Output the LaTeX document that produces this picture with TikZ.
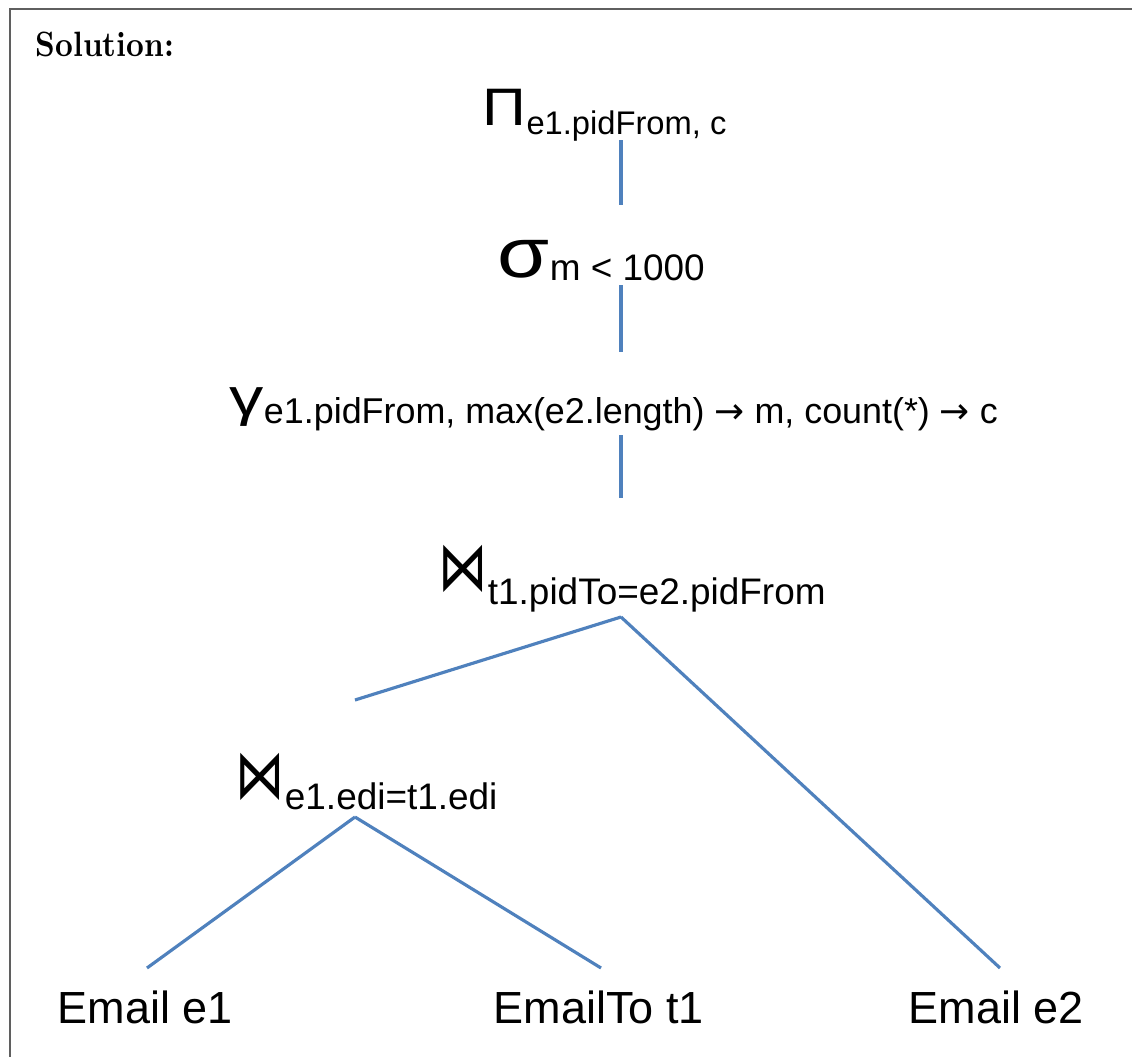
\documentclass[tikz,border=0pt]{standalone}
\usepackage{fontspec}
\newfontfamily\arialfont{Liberation Sans}
\newfontfamily\dejavufont{DejaVu Sans}
\definecolor{treeblue}{RGB}{79,129,189}
\definecolor{framegray}{RGB}{95,95,95}

\tikzset{
  opnode/.style={anchor=base west,inner sep=0pt,font=\arialfont},
  relnode/.style={anchor=base west,inner sep=0pt,font=\arialfont\fontsize{12.8}{14}\selectfont},
  link/.style={draw=treeblue,line width=0.9pt}
}
% operator symbol: size, x-stretch, y-stretch, glyph
\newcommand{\opsym}[4]{\scalebox{#2}[#3]{\fontsize{#1}{#1}\selectfont #4}}
% subscript: drop, size, text
\newcommand{\opsub}[3]{\raisebox{-#1}{\fontsize{#2}{#2}\selectfont #3}}
\newcommand{\toarrow}{{\dejavufont →}}

\begin{document}
\begin{tikzpicture}[x=0.01cm,y=-0.01cm]
    \useasboundingbox (0,0) rectangle (1132,1057);
    \draw[framegray,line width=0.6pt] (10,1057) -- (10,9) -- (1132,9);
    \node[anchor=base west,inner sep=0pt] (sol) at (35,56)
        {\scalebox{0.88}[1]{\fontsize{10}{12}\selectfont\bfseries Solution:}};

    % operators
    \node[opnode] (pi) at (482,125) {\opsym{15}{1.15}{1}{Π}\opsub{2.6pt}{9.3}{e1.pidFrom, c}};
    \node[opnode] (sigma) at (497,277) {\opsym{20}{1.2}{1}{σ}\opsub{1pt}{10.5}{m < 1000}};
    \node[opnode] (gamma) at (229,415) {\opsym{15}{1.3}{1}{γ}\opsub{2.3pt}{10.2}{e1.pidFrom, max(e2.length) \toarrow{} m, count(*) \toarrow{} c}};
    \node[opnode] (joinT) at (438,590) {{\dejavufont\opsym{14}{1}{1.4}{⋈}}\opsub{4pt}{10.5}{t1.pidTo=e2.pidFrom}};
    \node[opnode] (joinE) at (235,798) {{\dejavufont\opsym{14}{1}{1.4}{⋈}}\opsub{3.3pt}{10.5}{e1.edi=t1.edi}};

    % relations
    \node[relnode] (emailA) at (57,1023) {Email e1};
    \node[relnode] (emailTo) at (493,1023) {EmailTo t1};
    \node[relnode] (emailB) at (908,1023) {Email e2};

    % link ends
    \coordinate (pi-b) at (621,140);
    \coordinate (sigma-t) at (621,205);
    \coordinate (sigma-b) at (621,285);
    \coordinate (gamma-t) at (621,352);
    \coordinate (gamma-b) at (621,435);
    \coordinate (joinT-t) at (621,498);
    \coordinate (joinT-b) at (621,617);
    \coordinate (joinE-t) at (355,700);
    \coordinate (joinE-b) at (355,817);
    \coordinate (emailA-t) at (147,968);
    \coordinate (emailTo-t) at (601,968);
    \coordinate (emailB-t) at (1000,968);

    \foreach \a/\b in {pi-b/sigma-t,sigma-b/gamma-t,gamma-b/joinT-t,
                       joinT-b/joinE-t,joinT-b/emailB-t,
                       joinE-b/emailA-t,joinE-b/emailTo-t}
        { \draw[link] (\a) -- (\b); }
\end{tikzpicture}
\end{document}
